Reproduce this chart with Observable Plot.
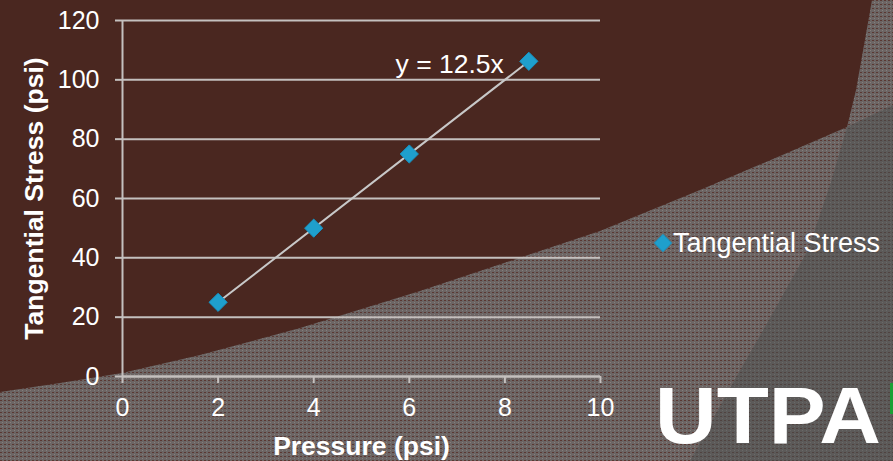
<!DOCTYPE html>
<html>
<head>
<meta charset="utf-8">
<script src="https://cdn.jsdelivr.net/npm/d3@7"></script>
<script src="https://cdn.jsdelivr.net/npm/@observablehq/plot@0.6"></script>
<style>
  html, body { margin: 0; padding: 0; overflow: hidden; background: #4a2720; }
  #stage { position: relative; width: 893px; height: 461px; font-family: "Liberation Sans", Arial, sans-serif; }
  #backdrop { position: absolute; left: 0; top: 0; z-index: 0; }
  #chart { position: absolute; left: 0; top: 0; z-index: 1; }
  #legend { position: absolute; left: 653px; top: 228px; z-index: 2; color: #fff; font-size: 27px; line-height: 30px; white-space: nowrap; display: flex; align-items: center; }
  #legend svg { margin-right: 0px; }
</style>
</head>
<body>
<div id="stage">
  <!-- slide backdrop: brown panel over textured grey shapes -->
  <svg id="backdrop" width="893" height="461" viewBox="0 0 893 461">
    <defs>
      <pattern id="weaveLight" width="4" height="4" patternUnits="userSpaceOnUse">
        <rect width="4" height="4" fill="#6c6564"/>
        <rect x="0" y="0" width="2" height="1" fill="#5a3832"/>
        <rect x="2" y="2" width="1" height="1" fill="#857f7d"/>
      </pattern>
      <pattern id="weaveDark" width="4" height="4" patternUnits="userSpaceOnUse">
        <rect width="4" height="4" fill="#5c5a59"/>
        <rect x="0" y="0" width="2" height="1" fill="#504340"/>
        <rect x="2" y="2" width="1" height="1" fill="#6b6968"/>
      </pattern>
    </defs>
    <rect width="893" height="461" fill="url(#weaveLight)"/>
    <path fill="url(#weaveDark)" d="M847,127 L893,105 L893,461 L690,461 L730,388 L770,318 L808,250 L830,185 Z"/>
    <path fill="#4a2720" d="M0,0 L872,0 L864,45 L856,90 L847,127 L780,156 L700,190 L600,231 L543,250 L420,291 L300,328 L200,355 L122,373 L60,383 L0,392 Z"/>
    <text x="655" y="443" font-family="'Liberation Sans', Arial, sans-serif" font-weight="bold" font-size="80" fill="#ffffff" textLength="226" lengthAdjust="spacingAndGlyphs">UTPA</text>
    <rect x="890" y="383" width="3" height="31" fill="#1aa035"/>
  </svg>
  <div id="chart"></div>
  <div id="legend"></div>
</div>
<script>
// Measured tangential stress against applied pressure
const pressure = [2, 4, 6, 8.5];
const stress = [25, 50, 75, 106.25];
const xTicks = [0, 2, 4, 6, 8, 10];
const yTicks = [0, 20, 40, 60, 80, 100, 120];
const seriesName = "Tangential Stress";
const xTitle = "Pressure (psi)";
const yTitle = "Tangential Stress (psi)";

const gridColor = "#c4c0be";
const markerFill = "#1f9fcc";
const markerStroke = "#1593c4";

const data = pressure.map((p, i) => ({p, s: stress[i]}));

// Least-squares line through the origin: y = m x
const slope = d3.sum(data, d => d.p * d.s) / d3.sum(data, d => d.p * d.p);
const trend = d3.extent(pressure).map(p => ({p, s: slope * p}));
const equation = `y = ${+slope.toFixed(2)}x`;
const lastPoint = data[data.length - 1];

const chart = Plot.plot({
  width: 893,
  height: 461,
  marginLeft: 122,
  marginRight: 293,
  marginTop: 20,
  marginBottom: 85,
  style: {background: "transparent", color: "#ffffff", fontFamily: "'Liberation Sans', Arial, sans-serif", overflow: "visible"},
  x: {domain: [0, 10], ticks: xTicks},
  y: {domain: [0, 120], ticks: yTicks},
  marks: [
    Plot.gridY(yTicks, {stroke: gridColor, strokeOpacity: 1, strokeWidth: 2}),
    Plot.ruleX([0], {stroke: gridColor, strokeWidth: 2}),
    Plot.ruleY([0], {stroke: gridColor, strokeWidth: 2}),
    Plot.axisY(yTicks, {label: null, tickSize: 7, tickPadding: 16, stroke: gridColor, strokeWidth: 2, fontSize: 25, fill: "#ffffff"}),
    Plot.axisX(xTicks, {label: null, tickSize: 7, tickPadding: 15, stroke: gridColor, strokeWidth: 2, fontSize: 25, fill: "#ffffff"}),
    Plot.line(trend, {x: "p", y: "s", stroke: "#c8c8c8", strokeWidth: 2}),
    Plot.dot(data, {x: "p", y: "s", symbol: "diamond2", r: 8.2, fill: markerFill, stroke: markerStroke, strokeWidth: 1}),
    Plot.text([lastPoint], {x: "p", y: "s", text: () => equation, textAnchor: "end", dx: -25, dy: 3, fontSize: 26.5, fill: "#ffffff"}),
    Plot.text([xTitle], {frameAnchor: "bottom", textAnchor: "middle", dy: 78, fontSize: 26.5, fontWeight: "bold", fill: "#ffffff"}),
    Plot.text([yTitle], {frameAnchor: "left", textAnchor: "middle", lineAnchor: "middle", dx: -88, rotate: -90, fontSize: 26.5, fontWeight: "bold", fill: "#ffffff"})
  ]
});
document.getElementById("chart").append(chart);

// Series key to the right of the plot
const legend = document.getElementById("legend");
legend.innerHTML =
  `<svg width="20" height="20" viewBox="-10 -10 20 20"><path d="${d3.symbol(d3.symbolDiamond2, 190)()}" fill="${markerFill}" stroke="${markerStroke}"/></svg>` +
  `<span></span>`;
legend.querySelector("span").textContent = seriesName;
</script>
</body>
</html>
